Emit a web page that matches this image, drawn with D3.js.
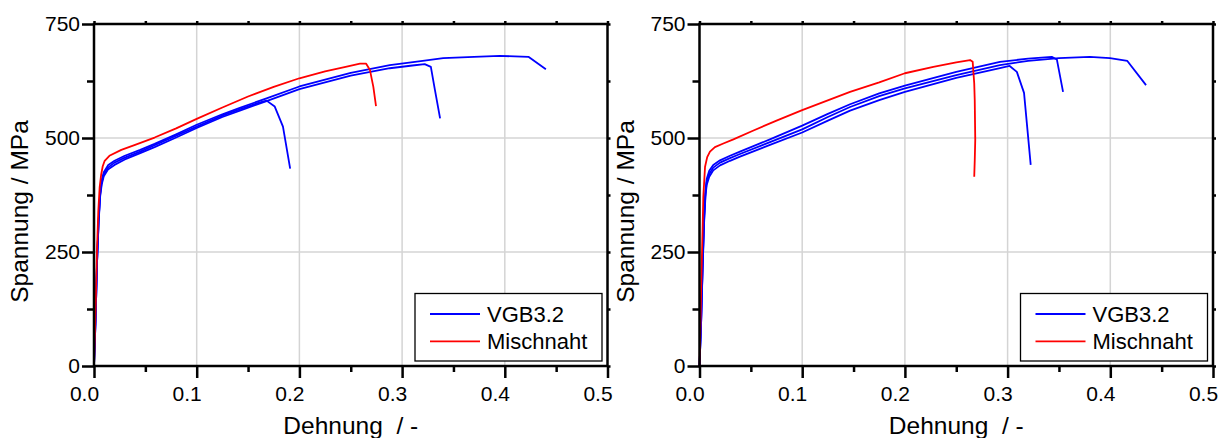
<!DOCTYPE html>
<html>
<head>
<meta charset="utf-8">
<script src="https://cdn.jsdelivr.net/npm/d3@7/dist/d3.min.js"></script>
<style>
  body { margin: 0; background: #fff; }
  svg { display: block; font-family: "Liberation Sans", Arial, sans-serif; }
</style>
</head>
<body>
<svg id="chart" width="1228" height="438"></svg>
<script>
// axis ticks and labels
const xTicks = [0, 0.1, 0.2, 0.3, 0.4, 0.5];
const xMinor = [0.05, 0.15, 0.25, 0.35, 0.45];
const yTicks = [0, 250, 500, 750];
const yMinor = [125, 375, 625];
const legendLabels = ["VGB3.2", "Mischnaht"];
const xTitle = "Dehnung  / -";
const yTitle = "Spannung / MPa";

// left panel: [strain, stress]
const blueL1 = [[0,0],[0.0015,100],[0.003,230],[0.0045,318],[0.006,376],[0.0075,403],[0.0095,420],[0.0136,435],[0.02,446],[0.03,457],[0.045,470],[0.059,484],[0.08,505],[0.1,525],[0.125,549],[0.142,563],[0.16,577],[0.168,582],[0.176,569],[0.184,525],[0.191,433]];
const blueL2 = [[0,0],[0.0015,100],[0.003,230],[0.0045,315],[0.006,372],[0.0075,398],[0.0095,416],[0.0136,431],[0.02,441],[0.03,453],[0.045,467],[0.059,480],[0.08,501],[0.1,522],[0.125,546],[0.142,560],[0.168,581],[0.2,607],[0.25,637],[0.288,653],[0.31,659],[0.322,662],[0.328,656],[0.332,605],[0.337,543]];
const blueL3 = [[0,0],[0.0015,100],[0.003,230],[0.0045,320],[0.006,380],[0.0075,408],[0.0095,425],[0.0136,440],[0.02,450],[0.03,461],[0.045,474],[0.059,487],[0.08,508],[0.1,529],[0.125,552],[0.142,566],[0.168,587],[0.2,613],[0.25,643],[0.288,660],[0.32,669],[0.34,675],[0.37,678],[0.395,680],[0.423,678],[0.44,651]];
const redL = [[0,0],[0.0015,120],[0.003,260],[0.0042,340],[0.0055,392],[0.007,420],[0.0085,438],[0.0104,450],[0.015,461],[0.0266,474],[0.04,485],[0.059,501],[0.08,521],[0.1,542],[0.125,567],[0.15,591],[0.175,612],[0.2,631],[0.225,646],[0.245,656],[0.259,663],[0.265,663],[0.2687,649],[0.272,612],[0.2746,570]];

// right panel
const blueR1 = [[0,0],[0.0015,90],[0.003,210],[0.0045,315],[0.0058,372],[0.007,397],[0.0095,415],[0.0134,429],[0.02,440],[0.0297,450],[0.0394,459],[0.0686,485],[0.1,512],[0.125,538],[0.1466,560],[0.175,583],[0.2,601],[0.25,632],[0.2925,653],[0.302,658],[0.309,645],[0.316,599],[0.3225,441]];
const blueR2 = [[0,0],[0.0015,90],[0.003,215],[0.0045,322],[0.0058,378],[0.007,403],[0.0095,421],[0.0134,435],[0.02,446],[0.0297,456],[0.0394,465],[0.0686,491],[0.1,519],[0.125,546],[0.1466,568],[0.175,592],[0.2,609],[0.25,638],[0.2925,660],[0.32,669],[0.35,675],[0.38,678],[0.3997,675],[0.4166,669],[0.4348,616]];
const blueR3 = [[0,0],[0.0015,90],[0.003,220],[0.0045,330],[0.0058,385],[0.007,410],[0.0095,428],[0.0134,441],[0.02,451],[0.0297,461],[0.0394,470],[0.0686,497],[0.1,527],[0.125,553],[0.1466,574],[0.175,598],[0.2,615],[0.25,645],[0.2925,667],[0.32,674],[0.343,678],[0.348,672],[0.354,601]];
const redR = [[0,0],[0.001,100],[0.002,210],[0.003,300],[0.0037,371],[0.0054,437],[0.0075,458],[0.0102,470],[0.015,480],[0.0232,488],[0.033,497],[0.052,516],[0.075,538],[0.1,561],[0.1466,601],[0.175,622],[0.2,642],[0.2277,656],[0.25,666],[0.2634,671],[0.266,667],[0.2675,620],[0.268,583],[0.2685,496],[0.268,450],[0.2675,415]];

const svg = d3.select("#chart");
const fmt = d3.format(".1f");

const drawPanel = (x0, blues, reds) => {
  const w = 513.5;
  const top = 24;
  const bottom = 366;

  const xScale = d3.scaleLinear().domain([0, 0.5]).range([x0, x0 + w]);
  const yScale = d3.scaleLinear().domain([0, 750]).range([bottom, top]);

  const g = svg.append("g");

  // grid
  g.selectAll(".gx")
    .data(xTicks.slice(1, -1))
    .enter()
    .append("line")
    .attr("x1", (d) => xScale(d))
    .attr("x2", (d) => xScale(d))
    .attr("y1", top)
    .attr("y2", bottom)
    .attr("stroke", "#d4d4d4")
    .attr("stroke-width", 1.5);

  g.selectAll(".gy")
    .data(yTicks.slice(1, -1))
    .enter()
    .append("line")
    .attr("x1", x0)
    .attr("x2", x0 + w)
    .attr("y1", (d) => yScale(d))
    .attr("y2", (d) => yScale(d))
    .attr("stroke", "#d4d4d4")
    .attr("stroke-width", 1.5);

  const line = d3
    .line()
    .x((d) => xScale(d[0]))
    .y((d) => yScale(d[1]));

  g.selectAll(".blue")
    .data(blues)
    .enter()
    .append("path")
    .attr("d", line)
    .attr("fill", "none")
    .attr("stroke", "#0000ff")
    .attr("stroke-width", 1.8)
    .attr("stroke-linejoin", "round");

  g.selectAll(".red")
    .data(reds)
    .enter()
    .append("path")
    .attr("d", line)
    .attr("fill", "none")
    .attr("stroke", "#ff0000")
    .attr("stroke-width", 1.8)
    .attr("stroke-linejoin", "round");

  // axes
  const styleAxis = (sel) => {
    sel.select(".domain").remove();
    sel.selectAll(".tick line").attr("stroke", "#000").attr("stroke-width", 2.5);
    sel.selectAll(".tick text")
      .attr("fill", "#000")
      .style("font-size", "21px")
      .style("font-family", '"Liberation Sans", Arial, sans-serif');
  };

  g.append("g")
    .attr("transform", `translate(0, ${bottom})`)
    .call(d3.axisBottom(xScale).tickValues(xTicks).tickSize(12).tickPadding(8).tickSizeOuter(0).tickFormat(fmt))
    .call(styleAxis)
    .selectAll(".tick text")
    .attr("dx", -10);

  g.append("g")
    .attr("transform", `translate(0, ${bottom})`)
    .call(d3.axisBottom(xScale).tickValues(xMinor).tickSize(6).tickSizeOuter(0).tickFormat(""))
    .call(styleAxis);

  g.append("g")
    .attr("transform", `translate(0, ${top})`)
    .call(d3.axisTop(xScale).tickValues(xTicks.concat(xMinor)).tickSize(3).tickSizeOuter(0).tickFormat(""))
    .call(styleAxis);

  g.append("g")
    .attr("transform", `translate(${x0}, 0)`)
    .call(d3.axisLeft(yScale).tickValues(yTicks).tickSize(12).tickPadding(2).tickSizeOuter(0))
    .call(styleAxis);

  g.append("g")
    .attr("transform", `translate(${x0}, 0)`)
    .call(d3.axisLeft(yScale).tickValues(yMinor).tickSize(7).tickSizeOuter(0).tickFormat(""))
    .call(styleAxis);

  g.append("g")
    .attr("transform", `translate(${x0 + w}, 0)`)
    .call(d3.axisRight(yScale).tickValues(yTicks.concat(yMinor)).tickSize(3).tickSizeOuter(0).tickFormat(""))
    .call(styleAxis);

  // frame
  g.append("rect")
    .attr("x", x0)
    .attr("y", top)
    .attr("width", w)
    .attr("height", bottom - top)
    .attr("fill", "none")
    .attr("stroke", "#000")
    .attr("stroke-width", 2.5);

  // titles
  g.append("text")
    .attr("x", x0 + w / 2)
    .attr("y", 434)
    .attr("text-anchor", "middle")
    .style("font-size", "24.5px")
    .style("white-space", "pre")
    .attr("xml:space", "preserve")
    .text(xTitle);

  g.append("text")
    .attr("transform", `translate(${x0 - 66}, 211.5) rotate(-90)`)
    .attr("text-anchor", "middle")
    .style("font-size", "24.5px")
    .text(yTitle);

  // legend
  const lx = x0 + w - 192.5;
  const leg = g.append("g");
  leg.append("rect")
    .attr("x", lx)
    .attr("y", 293.5)
    .attr("width", 187)
    .attr("height", 67.5)
    .attr("fill", "#fff")
    .attr("stroke", "#000")
    .attr("stroke-width", 1.3);

  const legColors = ["#0000ff", "#ff0000"];
  legendLabels.forEach((label, i) => {
    const ly = 314 + i * 27.3;
    leg.append("line")
      .attr("x1", lx + 15)
      .attr("x2", lx + 65)
      .attr("y1", ly)
      .attr("y2", ly)
      .attr("stroke", legColors[i])
      .attr("stroke-width", 1.8);
    leg.append("text")
      .attr("x", lx + 72)
      .attr("y", ly)
      .attr("dy", "0.35em")
      .style("font-size", "22px")
      .text(label);
  });
};

drawPanel(94, [blueL1, blueL2, blueL3], [redL]);
drawPanel(699.5, [blueR1, blueR2, blueR3], [redR]);
</script>
</body>
</html>
